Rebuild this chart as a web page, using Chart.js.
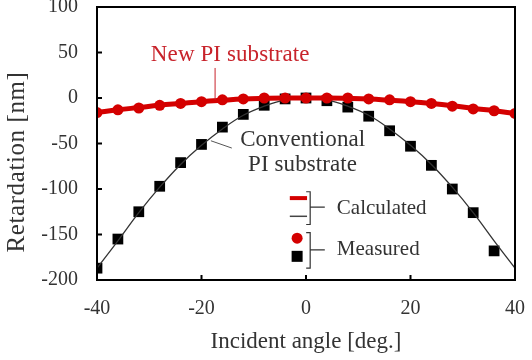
<!DOCTYPE html>
<html>
<head>
<meta charset="utf-8">
<script src="https://cdn.jsdelivr.net/npm/chart.js@4.4.0/dist/chart.umd.min.js"></script>
<style>
  body { margin: 0; background: #fff; }
  #wrap { width: 532px; height: 360px; }
</style>
</head>
<body>
<div id="wrap"><canvas id="myChart"></canvas></div>
<script>
// incident angle [deg.]
const angles = [-40, -36, -32, -28, -24, -20, -16, -12, -8, -4, 0, 4, 8, 12, 16, 20, 24, 28, 32, 36, 40];
// new PI substrate
const newCalc = [-16, -13, -10.5, -8, -6, -4, -2.5, -1.2, -0.5, 0, 0, 0, -0.5, -1.2, -2.5, -4, -6, -8.5, -11.5, -14, -17];
const newMeas = [-16, -13, -11, -8, -6, -4, -2, -1, 0, 0, 0, 0, 0, -1, -2, -4, -6, -9, -12, -14, -17];
// conventional PI substrate
const convCalc = [-187, -157, -126, -98, -73, -52, -34, -19, -9, -2, 0, -2, -9, -19, -34, -52, -73, -98, -126, -157, -187];
const convMeasAngles = [-40, -36, -32, -28, -24, -20, -16, -12, -8, -4, 0, 4, 8, 12, 16, 20, 24, 28, 32, 36];
const convMeas = [-187, -155, -125, -97, -71, -51, -32, -18, -8, -1, 0, -3, -10, -20, -36, -53, -74, -100, -126, -168];

const xTicks = [-40, -20, 0, 20, 40];
const yTicks = [-200, -150, -100, -50, 0, 50, 100];

const RED = "#d40000";
const TEXT = "#333333";
const SERIF = "'Liberation Serif', 'Times New Roman', serif";

function pts(xs, ys) {
  return xs.map((x, i) => ({ x: x, y: ys[i] }));
}

// frame, inward ticks, axis titles, annotations and the bracket legend
const decor = {
  id: "decor",
  afterDatasetsDraw(chart) {
    const ctx = chart.ctx;
    const a = chart.chartArea;
    const xs = chart.scales.x, ys = chart.scales.y;
    const P = (x, y) => [xs.getPixelForValue(x), ys.getPixelForValue(y)];
    ctx.save();
    ctx.strokeStyle = "#000";
    ctx.lineWidth = 2;
    ctx.strokeRect(a.left, a.top, a.right - a.left, a.bottom - a.top);
    ctx.beginPath();
    xTicks.forEach((t) => {
      const px = xs.getPixelForValue(t);
      ctx.moveTo(px, a.bottom);
      ctx.lineTo(px, a.bottom - 5);
    });
    yTicks.forEach((t) => {
      const py = ys.getPixelForValue(t);
      ctx.moveTo(a.left, py);
      ctx.lineTo(a.left + 5, py);
    });
    ctx.stroke();

    // axis titles
    ctx.fillStyle = TEXT;
    ctx.textAlign = "center";
    ctx.textBaseline = "middle";
    ctx.font = "23px " + SERIF;
    ctx.fillText("Incident angle [deg.]", (a.left + a.right) / 2, 342);
    ctx.save();
    ctx.translate(17, 162);
    ctx.rotate(-Math.PI / 2);
    ctx.font = "25px " + SERIF;
    ctx.letterSpacing = "0.6px";
    ctx.fillText("Retardation [nm]", 0, 0);
    ctx.restore();

    // annotations
    ctx.font = "23px " + SERIF;
    ctx.letterSpacing = "0.1px";
    ctx.fillStyle = "#c8232b";
    ctx.textAlign = "center";
    let p = P(-14.5, 47);
    ctx.fillText("New PI substrate", p[0], p[1]);
    ctx.strokeStyle = "#c8232b";
    ctx.lineWidth = 1;
    ctx.beginPath();
    p = P(-17.4, 33); ctx.moveTo(p[0], p[1]);
    p = P(-17.4, -2); ctx.lineTo(p[0], p[1]);
    ctx.stroke();

    ctx.fillStyle = TEXT;
    ctx.textAlign = "left";
    p = P(-12.6, -46);
    ctx.fillText("Conventional", p[0], p[1]);
    p = P(-11.1, -74);
    ctx.fillText("PI substrate", p[0], p[1]);
    ctx.strokeStyle = "#555";
    ctx.beginPath();
    p = P(-18.2, -47); ctx.moveTo(p[0], p[1]);
    p = P(-14.2, -55); ctx.lineTo(p[0], p[1]);
    ctx.stroke();

    // legend
    ctx.lineCap = "butt";
    ctx.strokeStyle = RED;
    ctx.lineWidth = 4;
    ctx.beginPath();
    p = P(-3.1, -110); ctx.moveTo(p[0], p[1]);
    p = P(0.2, -110); ctx.lineTo(p[0], p[1]);
    ctx.stroke();
    ctx.strokeStyle = "#444";
    ctx.lineWidth = 1.5;
    ctx.beginPath();
    p = P(-3.1, -130); ctx.moveTo(p[0], p[1]);
    p = P(0.2, -130); ctx.lineTo(p[0], p[1]);
    ctx.stroke();

    ctx.fillStyle = RED;
    p = P(-1.7, -154);
    ctx.beginPath();
    ctx.arc(p[0], p[1], 5.5, 0, Math.PI * 2);
    ctx.fill();
    ctx.fillStyle = "#000";
    p = P(-1.7, -174);
    ctx.fillRect(p[0] - 5.5, p[1] - 5.5, 11, 11);

    function bracket(y1, y2, ym) {
      const t = P(0.8, y1), b = P(0.8, y2), m = P(3.6, ym);
      ctx.beginPath();
      ctx.moveTo(t[0] - 4, t[1]);
      ctx.lineTo(t[0], t[1]);
      ctx.lineTo(b[0], b[1]);
      ctx.lineTo(b[0] - 4, b[1]);
      ctx.moveTo(t[0], m[1]);
      ctx.lineTo(m[0], m[1]);
      ctx.stroke();
    }
    ctx.strokeStyle = "#333";
    ctx.lineWidth = 1.2;
    bracket(-103, -139, -120);
    bracket(-148, -187, -167);

    ctx.fillStyle = TEXT;
    ctx.font = "21px " + SERIF;
    ctx.letterSpacing = "0px";
    p = P(5.9, -121);
    ctx.fillText("Calculated", p[0], p[1]);
    p = P(5.9, -166);
    ctx.fillText("Measured", p[0], p[1]);
    ctx.restore();
  }
};

const ctx = document.getElementById("myChart").getContext("2d");
const myChart = new Chart(ctx, {
  type: "scatter",
  data: {
    datasets: [
      {
        label: "New PI calculated",
        type: "line",
        data: pts(angles, newCalc),
        borderColor: RED,
        borderWidth: 5,
        pointRadius: 0,
        tension: 0.4,
      },
      {
        label: "New PI measured",
        data: pts(angles, newMeas),
        backgroundColor: RED,
        borderWidth: 0,
        pointRadius: 5.5,
      },
      {
        label: "Conventional calculated",
        type: "line",
        data: pts(angles, convCalc),
        borderColor: "#333",
        borderWidth: 1.3,
        pointRadius: 0,
        tension: 0.4,
      },
      {
        label: "Conventional measured",
        data: pts(convMeasAngles, convMeas),
        pointStyle: "rect",
        backgroundColor: "#000",
        borderWidth: 0,
        pointRadius: 7.6,
      },
    ],
  },
  options: {
    responsive: true,
    maintainAspectRatio: false,
    animation: false,
    events: [],
    layout: { padding: { top: 7, right: 17, left: 0, bottom: 0 }, autoPadding: false },
    plugins: { legend: { display: false }, tooltip: { enabled: false } },
    scales: {
      x: {
        type: "linear",
        min: -40,
        max: 40,
        afterBuildTicks: (s) => { s.ticks = xTicks.map((v) => ({ value: v })); },
        afterFit: (s) => { s.height = 80; s.paddingLeft = 0; s.paddingRight = 0; },
        grid: { display: false, drawTicks: false },
        border: { display: false },
        ticks: { color: TEXT, font: { family: SERIF, size: 20 }, padding: 17, maxRotation: 0 },
      },
      y: {
        min: -200,
        max: 100,
        afterBuildTicks: (s) => { s.ticks = yTicks.map((v) => ({ value: v })); },
        afterFit: (s) => { s.width = 97; s.paddingTop = 0; s.paddingBottom = 0; },
        grid: { display: false, drawTicks: false },
        border: { display: false },
        ticks: { color: TEXT, font: { family: SERIF, size: 20 }, padding: 19 },
      },
    },
  },
  plugins: [decor],
});
</script>
</body>
</html>
